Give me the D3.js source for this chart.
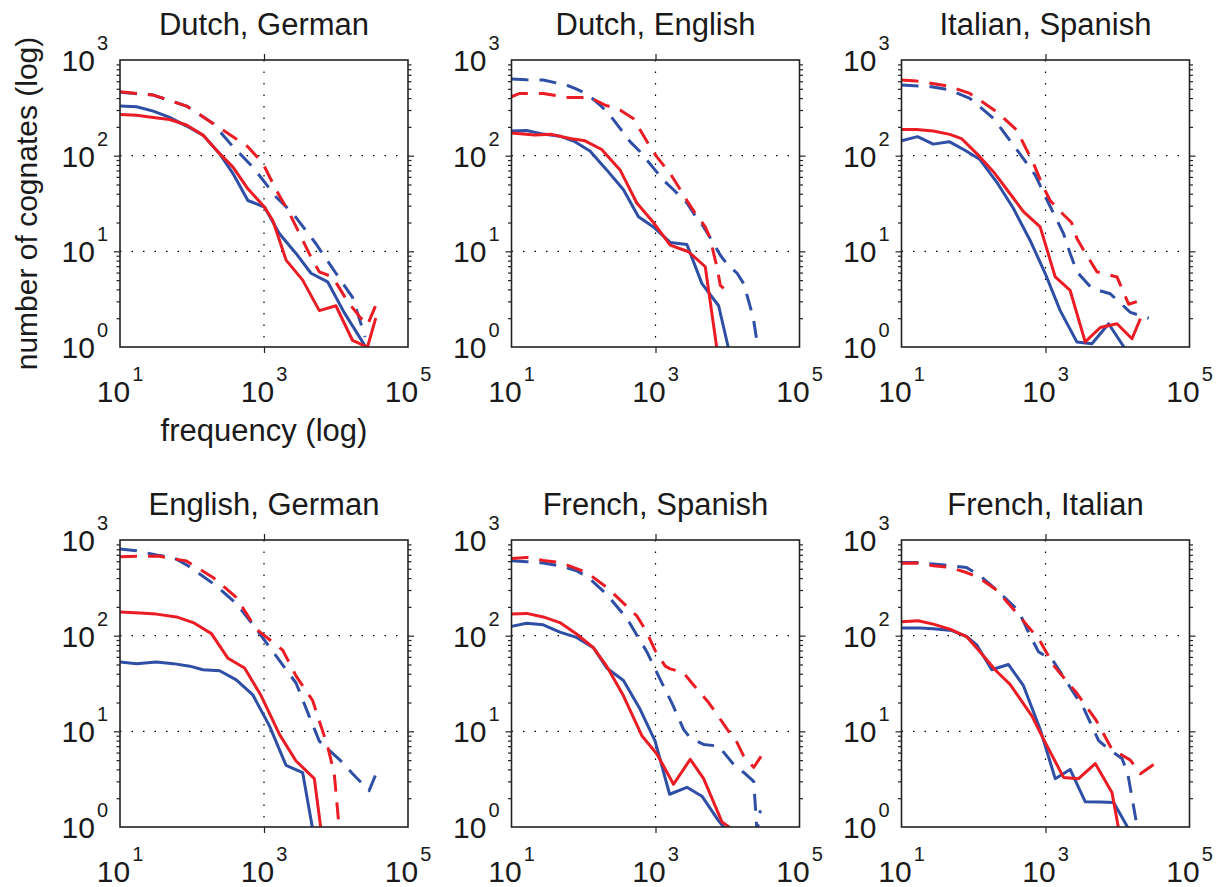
<!DOCTYPE html>
<html>
<head>
<meta charset="utf-8">
<script src="https://cdn.jsdelivr.net/npm/d3@7"></script>
<style>
  body { margin: 0; background: #fff; }
  svg { font-family: "Liberation Sans", Arial, Helvetica, sans-serif; }
</style>
</head>
<body>
<svg id="chart" width="1217" height="887"></svg>
<script>
// [frequency, number of cognates] pairs

// Dutch, German
var dgBlue = [[10,330],[17,324],[29,292],[49,251],[84,204],[142,164],[242,105],[371,65],[597,34],[1016,29],[1640,15.3],[2786,9.5],[4500,5.9],[7650,4.8],[12950,2.3],[25900,1]];
var dgRed = [[10,270],[17,265],[29,251],[49,239],[84,209],[142,164],[242,105],[371,76],[597,45],[1016,29],[1325,21],[2027,8.1],[3444,5],[5866,2.4],[9970,2.7],[16980,1.17],[27360,1],[35650,2]];
var dgBlueDash = [[10,460],[29,430],[84,330],[196,217],[371,124],[700,76],[1472,37],[2506,25],[5270,12],[9970,5.9],[16980,3.3],[25400,1.27]];
var dgRedDash = [[10,466],[29,430],[84,330],[196,217],[371,158],[597,124],[964,83],[1472,44],[2254,25],[4500,8.7],[5866,6.1],[8970,5.4],[14450,3],[21000,2.1],[27360,1.7],[37630,3]];

// Dutch, English
var deBlue = [[10,181],[16.2,183],[27.6,168],[47,160],[76,140],[123,112],[210,71],[359,44],[580,23],[937,18],[1600,12.4],[2730,11.8],[4415,4.6],[7530,2.7],[10380,0.95]];
var deRed = [[10,173],[21,164],[36,167],[65,151],[105,143],[179,116],[322,71],[550,32],[937,20],[1600,11.6],[2880,9.9],[4910,6.9],[7140,0.95]];
var deBlueDash = [[10,632],[16.2,620],[27.6,617],[58,547],[76,505],[115,437],[170,338],[233,265],[322,193],[443,140],[612,110],[760,90],[1300,55],[1780,44],[2730,32],[3380,25],[4660,18],[6050,13],[7950,9.1],[9840,7.4],[13600,5.9],[16800,4.6],[20800,2.6],[23100,1.9],[25700,1.13],[28000,0.95]];
var deRedDash = [[10,413],[13,447],[27.6,447],[58,406],[123,406],[199,338],[322,300],[490,245],[612,185],[840,124],[1045,97],[1600,65],[2100,47],[2730,34],[3560,25],[4910,18],[5770,13.6],[6420,9.5],[7140,6.9],[7950,4.4],[8850,4.1]];

// Italian, Spanish
var isBlue = [[10,143],[16.7,158],[27.6,132],[46,140],[76,114],[123,91],[210,53],[359,28],[612,13],[988,5.9],[1600,2.4],[2730,1.13],[4415,1.08],[7530,1.75],[12850,0.95]];
var isRed = [[10,188],[16.2,188],[27.6,181],[47,167],[68,151],[111,105],[189,68],[322,40],[494,26],[843,18],[1365,5.4],[2200,3.9],[3560,1.13],[5770,1.6],[9840,1.75],[15900,1.22],[20800,1.98]];
var isBlueDash = [[10,547],[26,525],[45,490],[89,398],[189,245],[359,129],[718,63],[1100,32],[1365,23],[1780,15.3],[2200,9.5],[2730,6.1],[4415,4.1],[7950,3.6],[15100,2.3],[27200,2.0]];
var isRedDash = [[10,617],[16.2,602],[45,533],[89,447],[210,288],[399,185],[680,83],[935,47],[1160,34],[1700,25],[2300,20],[2730,13.6],[3380,10.3],[5190,6.1],[9840,5.4],[14300,2.8],[21900,3.1]];

// English, German
var egBlue = [[10,53],[17,51],[32,53],[55,51],[93,48],[142,44],[242,43],[412,34.5],[700,24],[1190,11.4],[2027,4.4],[3444,3.7],[4740,0.95]];
var egRed = [[10,177],[19,173],[32,168],[61,157],[104,137],[186,105],[316,58],[537,46],[914,23.5],[1640,9.3],[2786,4.9],[5000,3.2],[6180,0.95]];
var egBlueDash = [[10,804],[17,773],[32,697],[55,658],[88,538],[218,332],[421,214],[847,108],[1730,52],[2786,32],[4050,15.7],[5866,7.9],[11700,4.9],[16980,3.6],[28840,2.4],[37630,3.9]];
var egRedDash = [[10,670],[34,680],[84,603],[196,406],[412,251],[780,117],[1550,78],[1830,70],[2786,38],[4740,21],[5866,12.8],[7650,7],[9460,3.6],[11100,0.95]];

// French, Spanish
var fsBlue = [[10,125],[16.2,135],[27.6,130],[47,109],[80,96],[137,75],[210,46],[359,34],[612,17],[988,7.9],[1570,2.2],[2730,2.6],[4415,2.1],[7530,1.16],[9340,0.95]];
var fsRed = [[10,168],[16.2,171],[27.6,157],[47,137],[80,104],[137,75],[210,48],[359,23.5],[646,9],[1045,5.8],[1780,2.8],[3040,5.1],[4660,3.2],[8370,1.13],[11550,0.95]];
var fsBlueDash = [[10,607],[16.2,593],[27.6,574],[47,538],[80,477],[117,406],[210,270],[399,152],[757,68],[1160,35],[1730,19],[2450,10.5],[3040,8.5],[4660,7.3],[7530,7.0],[12200,4.5],[17700,3.6],[23100,3.0],[25700,0.9],[28600,1.5]];
var fsRedDash = [[10,642],[16.2,658],[27.6,610],[47,583],[111,457],[210,320],[407,200],[550,161],[741,112],[988,70],[1365,48],[1600,45],[2450,41],[3200,32],[5470,20],[10380,10],[12200,9],[16800,5.5],[23100,4.2],[31800,6]];

// French, Italian
var fiBlue = [[10,120],[18,120],[27.6,118],[50,113],[80,98],[111,80],[179,44],[305,50],[494,30],[843,10.5],[1365,3.2],[2200,4],[3560,1.84],[5770,1.83],[8850,1.8],[14300,0.95]];
var fiRed = [[10,140],[17,143],[27.6,132],[47,117],[80,98],[123,68],[199,44],[322,31],[646,14.5],[937,8.3],[1780,3.3],[2880,3.2],[4910,4.6],[8370,2.3],[10380,0.95]];
var fiBlueDash = [[10,583],[16.2,583],[27.6,560],[47,540],[80,517],[123,423],[210,300],[421,182],[612,100],[800,68],[1265,55],[2330,27],[3450,17],[5470,8],[7530,6.5],[11550,5.2],[13900,3.6],[18000,1.2],[19700,0.9]];
var fiRedDash = [[10,570],[16.2,574],[27.6,538],[47,517],[80,457],[117,406],[210,300],[434,160],[826,90],[1320,48],[2730,25],[5070,13],[8370,6.5],[15100,5.0],[20800,3.6],[31800,4.5]];

var titles = ['Dutch, German', 'Dutch, English', 'Italian, Spanish',
              'English, German', 'French, Spanish', 'French, Italian'];
var xTickExps = [1, 3, 5];
var yTickExps = [0, 1, 2, 3];

var series = [
  [dgBlueDash, dgRedDash, dgBlue, dgRed],
  [deBlueDash, deRedDash, deBlue, deRed],
  [isBlueDash, isRedDash, isBlue, isRed],
  [egBlueDash, egRedDash, egBlue, egRed],
  [fsBlueDash, fsRedDash, fsBlue, fsRed],
  [fiBlueDash, fiRedDash, fiBlue, fiRed]
];

var BLUE = '#2f4fa6', RED = '#eb1c24';
var lefts = [120, 511.5, 901.5], tops = [60, 540];
var pw = 288, ph = 287;

var svg = d3.select('#chart');

var x = d3.scaleLog().domain([10, 1e5]).range([0, pw]);
var y = d3.scaleLog().domain([1, 1e3]).range([ph, 0]);

var line = d3.line()
  .x(function(d) { return x(d[0]); })
  .y(function(d) { return y(d[1]); });

svg.append('defs').append('clipPath').attr('id', 'plot-clip')
  .append('rect').attr('x', 0).attr('y', 0).attr('width', pw).attr('height', ph);

function powLabel(sel, exp) {
  sel.append('tspan').text('10');
  sel.append('tspan').attr('dy', -21).attr('dx', 2).attr('font-size', 20).text(exp);
}

series.forEach(function(s, i) {
  var col = i % 3, row = Math.floor(i / 3);
  var g = svg.append('g')
    .attr('transform', 'translate(' + lefts[col] + ',' + tops[row] + ')');

  // grid
  g.append('line')
    .attr('x1', x(1e3)).attr('x2', x(1e3)).attr('y1', 0).attr('y2', ph)
    .attr('stroke', '#000').attr('stroke-width', 1.2).attr('stroke-dasharray', '1.5,10');
  [10, 100].forEach(function(v) {
    g.append('line')
      .attr('x1', 0).attr('x2', pw).attr('y1', y(v)).attr('y2', y(v))
      .attr('stroke', '#000').attr('stroke-width', 1.2).attr('stroke-dasharray', '1.5,10');
  });

  // ticks (inward)
  var minor = y.ticks().filter(function(v) { return Math.log10(v) % 1 !== 0; });
  var major = [10, 100];
  [[d3.axisRight, 0], [d3.axisLeft, pw]].forEach(function(a) {
    g.append('g').attr('transform', 'translate(' + a[1] + ',0)')
      .call(a[0](y).tickValues(minor).tickSize(-3.5).tickFormat(''))
      .call(function(ax) { ax.select('.domain').remove(); });
    g.append('g').attr('transform', 'translate(' + a[1] + ',0)')
      .call(a[0](y).tickValues(major).tickSize(-6).tickFormat(''))
      .call(function(ax) { ax.select('.domain').remove(); });
  });
  [[d3.axisTop, ph], [d3.axisBottom, 0]].forEach(function(a) {
    g.append('g').attr('transform', 'translate(0,' + a[1] + ')')
      .call(a[0](x).tickValues([1e3]).tickSize(-6).tickFormat(''))
      .call(function(ax) { ax.select('.domain').remove(); });
  });
  g.selectAll('.tick line').attr('stroke', '#222').attr('stroke-width', 1.2);

  // data
  var colors = [BLUE, RED, BLUE, RED];
  var plot = g.append('g').attr('clip-path', 'url(#plot-clip)');
  s.forEach(function(d, k) {
    plot.append('path')
      .datum(d)
      .attr('d', line)
      .attr('fill', 'none')
      .attr('stroke', colors[k])
      .attr('stroke-width', 3)
      .attr('stroke-linejoin', 'round')
      .attr('stroke-dasharray', k < 2 ? '17,11' : null);
  });

  // frame
  g.append('rect')
    .attr('width', pw).attr('height', ph)
    .attr('fill', 'none').attr('stroke', '#222').attr('stroke-width', 1.6);

  // tick labels
  xTickExps.forEach(function(e) {
    g.append('text')
      .attr('x', x(Math.pow(10, e))).attr('y', ph + 55)
      .attr('text-anchor', 'middle').attr('font-size', 30).attr('fill', '#1a1a1a')
      .call(powLabel, e);
  });
  yTickExps.forEach(function(e) {
    g.append('text')
      .attr('x', -12).attr('y', y(Math.pow(10, e)) + 11)
      .attr('text-anchor', 'end').attr('font-size', 30).attr('fill', '#1a1a1a')
      .call(powLabel, e);
  });

  g.append('text')
    .attr('x', pw / 2).attr('y', -25)
    .attr('text-anchor', 'middle').attr('font-size', 31).attr('fill', '#1a1a1a')
    .text(titles[i]);

  if (i === 0) {
    g.append('text')
      .attr('x', pw / 2).attr('y', ph + 94)
      .attr('text-anchor', 'middle').attr('font-size', 31).attr('fill', '#1a1a1a')
      .text('frequency (log)');
    g.append('text')
      .attr('transform', 'translate(' + (37 - lefts[0]) + ',' + (ph / 2) + ') rotate(-90)')
      .attr('text-anchor', 'middle').attr('font-size', 30).attr('fill', '#1a1a1a')
      .text('number of cognates (log)');
  }
});
</script>
</body>
</html>
